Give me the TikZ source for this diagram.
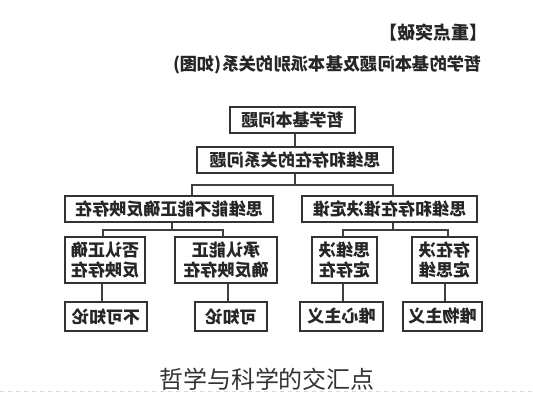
\documentclass[tikz,border=0pt]{standalone}
\usepackage{fontspec}
\setmainfont{Noto Sans CJK SC}
\newfontfamily\cjk{Noto Sans CJK SC}
\begin{document}
\begin{tikzpicture}[x=0.75pt,y=-0.75pt,
  box/.style={draw=black!80,line width=1.3pt,inner sep=0pt,align=center,
    font=\cjk\bfseries\fontsize{12.8}{15.5}\selectfont,text=black!85,xscale=-1},
  conn/.style={draw=black!75,line width=1.2pt},
  ttl/.style={inner sep=0pt,font=\cjk\bfseries\fontsize{13}{15}\selectfont,text=black!85,xscale=-1}]
\useasboundingbox (0,0) rectangle (533,400);
% titles (mirrored)
\node[ttl,font=\cjk\bfseries\fontsize{13.5}{15}\selectfont] (t1) at (433.5,33) {【重点突破】};
\node[ttl] (t2) at (327.5,65) {哲学的基本问题及基本派别的关系(如图)};
% boxes
\node[box,minimum width=93.75pt,minimum height=19.5pt] (top) at (292.5,120) {哲学基本问题};
\node[box,minimum width=147pt,minimum height=19.5pt] (rel) at (295,160) {思维和存在的关系问题};
\node[box,minimum width=156pt,minimum height=19.5pt] (L3) at (169,209) {思维能不能正确反映存在};
\node[box,minimum width=131.25pt,minimum height=19.5pt] (R3) at (389.5,209) {思维和存在谁决定谁};
\node[box,minimum width=60pt,minimum height=34.5pt] (a) at (105,260) {否认正确\\反映存在};
\node[box,minimum width=76.5pt,minimum height=34.5pt] (b) at (226,260) {承认能正\\确反映存在};
\node[box,minimum width=48.75pt,minimum height=34.5pt] (c) at (344.5,260) {思维决\\定存在};
\node[box,minimum width=48.75pt,minimum height=34.5pt] (d) at (444.5,260) {存在决\\定思维};
\node[box,minimum width=61.5pt,minimum height=21.75pt] (e) at (106,316.5) {不可知论};
\node[box,minimum width=54pt,minimum height=21.75pt] (f) at (231,316.5) {可知论};
\node[box,minimum width=62.25pt,minimum height=21.75pt] (g) at (341.5,316.5) {唯心主义};
\node[box,minimum width=59.25pt,minimum height=21.75pt] (h) at (442.5,316.5) {唯物主义};
% junctions
\coordinate (j1) at (295,185);
\coordinate (j2) at (172,230);
\coordinate (j3) at (393,230);
% connectors
\draw[conn] (top.south -| 295,0) -- (rel.north -| 295,0);
\draw[conn] (rel.south -| 295,0) -- (j1);
\draw[conn] (L3.north -| 192,0) |- (j1) -| (R3.north -| 393,0);
\draw[conn] (L3.south -| j2) -- (j2);
\draw[conn] (a.north -| 103,0) |- (j2) -| (b.north -| 223,0);
\draw[conn] (R3.south -| j3) -- (j3);
\draw[conn] (c.north -| 343,0) |- (j3) -| (d.north -| 448,0);
\draw[conn] (a.south -| 102,0) -- (e.north -| 102,0);
\draw[conn] (b.south -| 228,0) -- (f.north -| 228,0);
\draw[conn] (c.south -| 343,0) -- (g.north -| 343,0);
\draw[conn] (d.south -| 445,0) -- (h.north -| 445,0);
% bottom caption and dashed rule
\draw[black!15,dashed,line width=0.6pt] (0,391) -- (533,391);
\node[inner sep=0pt,font=\cjk\fontsize{18}{20}\selectfont,text=black!80] (cap) at (267,379) {哲学与科学的交汇点};
\end{tikzpicture}
\end{document}
